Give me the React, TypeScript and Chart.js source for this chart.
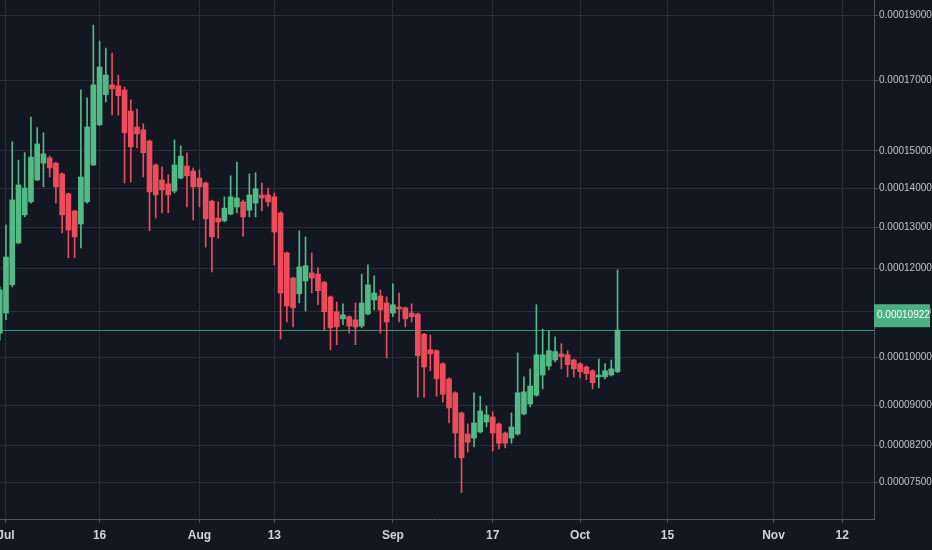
import React, { useEffect, useRef } from 'react';
import Chart from 'chart.js/auto';

// daily candles, prices in satoshi; first candle is Jun 30 (day -1, Jul 1 = day 0)
const FIRST_DAY = -1;

const opens = [
  10520, 10970, 11620, 12620, 13320, 13650, 14220, 14670, 14810, 14670, 14380, 13860, 13420, 13090, 13650, 14620,
  15720, 16580, 16870, 16840, 16720, 16110, 15660, 15580, 15270, 14620, 14220, 14120, 13930, 14270, 14590, 14460,
  14270, 14140, 13670, 13240, 13170, 13340, 13520, 13650, 13440, 13620, 13830, 13830, 13780, 13370, 12380, 11780,
  11410, 11710, 11900, 11870, 11680, 11340, 11000, 10840, 10890, 10820, 10680, 10950, 11270, 11360, 11200,
  10970, 11110, 11090, 10970, 10950, 10500, 10160, 10140, 9860, 9540, 9250, 8840, 8420, 8340, 8460, 8660,
  8760, 8620, 8440, 8340, 8420, 8820, 9020, 9200, 9620, 9810, 9940, 10070, 10050, 9940,
  9860, 9790, 9710, 9580, 9580, 9620, 9690,
];
const highs = [
  11570, 13070, 15250, 14750, 14950, 15940, 15640, 15500, 14860, 14700, 14410, 13880, 13440, 16720, 16490, 18690,
  18190, 17970, 17820, 17160, 16810, 16430, 16170, 15750, 15300, 14650, 14570, 14360, 15300, 15140, 14950, 14540,
  14490, 14170, 13700, 13650, 13780, 14330, 14700, 13700, 14380, 14410, 14140, 14010, 13880, 13400, 12400, 11800,
  12920, 12770, 12380, 12020, 11700, 11360, 11220, 11180, 10910, 11200, 11870, 12090, 11830, 11500, 11340,
  11640, 11430, 11110, 11180, 10970, 10520, 10480, 10160, 9880, 9560, 9270, 8860, 8620, 9250, 9180, 8980,
  8860, 8640, 8460, 8840, 10090, 9580, 9750, 11160, 10610, 10570, 10440, 10290, 10140, 9960,
  9880, 9810, 9730, 9960, 9860, 9940, 11970,
];
const lows = [
  10370, 10820, 11570, 12600, 13270, 13620, 14200, 14040, 14300, 13620, 12870, 12260, 12260, 12500, 13620, 14600,
  15700, 16370, 16000, 16000, 14140, 14170, 15080, 14300, 12920, 13240, 13370, 13370, 13880, 14250, 13520, 13190,
  13520, 12520, 11920, 12740, 13140, 13320, 13370, 12790, 13270, 13270, 13420, 13540, 12090, 10390, 10770, 10660,
  11200, 11020, 11430, 11160, 10590, 10160, 10270, 10710, 10520, 10270, 10640, 10930, 11040, 10520, 9980,
  10890, 10770, 10660, 10770, 9160, 9160, 9710, 9180, 9060, 8640, 7960, 7310, 8070, 8170, 8440, 8560,
  8090, 8130, 8150, 8240, 8400, 8800, 8960, 9180, 9330, 9730, 9900, 9750, 9580, 9580,
  9560, 9520, 9330, 9350, 9540, 9600, 9670,
];
const closes = [
  11500, 12280, 13700, 14090, 14010, 14830, 15190, 14920, 14540, 14040, 13320, 12940, 12770, 14300, 15660, 16870,
  17400, 17160, 16750, 16550, 15500, 15110, 15470, 14950, 13910, 13830, 13960, 13830, 14620, 14860, 14330, 14040,
  14040, 13220, 12770, 13140, 13490, 13780, 13750, 13270, 13830, 13990, 13750, 13650, 12890, 11430, 11130, 11090,
  12040, 12070, 11780, 11480, 11000, 10640, 10660, 10930, 10680, 10660, 11200, 11620, 11430, 11040, 10770,
  11160, 11060, 10840, 10890, 10030, 9790, 10070, 9540, 9220, 8940, 8440, 7960, 8260, 8640, 8880, 8800,
  8440, 8240, 8240, 8560, 9250, 9270, 9390, 10050, 10050, 10140, 10120, 10010, 9840, 9750,
  9690, 9650, 9460, 9620, 9710, 9750, 10590,
];

const dayTicks = [0, 15, 31, 43, 62, 78, 92, 106, 123, 134];
const dayTickLabels = ['Jul', '16', 'Aug', '13', 'Sep', '17', 'Oct', '15', 'Nov', '12'];
const priceTicks = [7500, 8200, 9000, 10000, 11000, 12000, 13000, 14000, 15000, 17000, 19000];
const lastPriceLabel = 10922;

const UP = '#53b987';
const DOWN = '#eb4d5c';
const FONT = "'Liberation Sans', Arial, sans-serif";

// the price axis is log-like with a shift
const SHIFT = 8600;
const toScale = (sat: number) => Math.log((sat + SHIFT) / 1000);
const fmt = (sat: number) => (sat / 1e8).toFixed(8);

const lastPricePlugin = {
  id: 'lastPrice',
  beforeDatasetsDraw(chart: any) {
    const { ctx, chartArea } = chart;
    const y = Math.round(chart.scales.y.getPixelForValue(toScale(closes[closes.length - 1]))) + 0.5;
    ctx.save();
    ctx.strokeStyle = 'rgba(83,185,135,0.75)';
    ctx.lineWidth = 1;
    ctx.beginPath();
    ctx.moveTo(chartArea.left, y);
    ctx.lineTo(chartArea.right, y);
    ctx.stroke();
    ctx.restore();
  },
  afterDraw(chart: any) {
    const { ctx, chartArea } = chart;
    const y = chart.scales.y.getPixelForValue(toScale(lastPriceLabel));
    ctx.save();
    ctx.fillStyle = '#4caf80';
    ctx.fillRect(chartArea.right, y - 11, 56, 23);
    ctx.fillStyle = '#ffffff';
    ctx.font = `10px ${FONT}`;
    ctx.textBaseline = 'middle';
    ctx.textAlign = 'left';
    ctx.fillText(fmt(lastPriceLabel), chartArea.right + 3, y);
    ctx.restore();
  },
};

export default function App() {
  const canvasRef = useRef<HTMLCanvasElement | null>(null);

  useEffect(() => {
    const ctx = canvasRef.current?.getContext('2d');
    if (!ctx) return;

    const colors = opens.map((o, i) => (closes[i] >= o ? UP : DOWN));
    const bodies = opens.map((o, i) => ({ x: FIRST_DAY + i, y: [toScale(o), toScale(closes[i])] }));
    const wicks = lows.map((l, i) => ({ x: FIRST_DAY + i, y: [toScale(l), toScale(highs[i])] }));

    const chart = new Chart(ctx, {
      type: 'bar',
      data: {
        datasets: [
          { data: bodies, backgroundColor: colors, barThickness: 5, minBarLength: 1, grouped: false },
          { data: wicks, backgroundColor: colors, barThickness: 1, grouped: false },
        ],
      },
      options: {
        animation: false,
        responsive: true,
        maintainAspectRatio: false,
        layout: { padding: 0, autoPadding: false },
        plugins: { legend: { display: false }, tooltip: { enabled: false } },
        scales: {
          x: {
            type: 'linear',
            min: -0.96,
            max: 139.1,
            offset: false,
            afterBuildTicks: (s: any) => { s.ticks = dayTicks.map((v) => ({ value: v })); },
            afterFit: (s: any) => { s.height = 31; s.paddingLeft = 0; s.paddingRight = 0; },
            ticks: {
              autoSkip: false,
              maxRotation: 0,
              padding: 5,
              color: '#d1d4dc',
              font: { family: FONT, size: 12, weight: 'bold' },
              callback: (v: any) => dayTickLabels[dayTicks.indexOf(Number(v))] ?? '',
            },
            grid: { offset: false, color: '#2a2e39', tickColor: '#50545f', tickLength: 4 },
            border: { color: '#50545f' },
          },
          y: {
            type: 'linear',
            position: 'right',
            min: toScale(6830),
            max: toScale(19490),
            afterBuildTicks: (s: any) => { s.ticks = priceTicks.map((p) => ({ value: toScale(p) })); },
            afterFit: (s: any) => { s.width = 58; s.paddingTop = 0; s.paddingBottom = 0; },
            ticks: {
              padding: 1,
              color: '#c0c3ca',
              font: { family: FONT, size: 10 },
              callback: (_v: any, i: number) => fmt(priceTicks[i]),
            },
            grid: { color: '#2a2e39', tickColor: '#50545f', tickLength: 4 },
            border: { color: '#50545f' },
          },
        },
      },
      plugins: [lastPricePlugin],
    } as any);

    return () => chart.destroy();
  }, []);

  return (
    <div style={{ position: 'fixed', left: 0, top: 0, width: 932, height: 550, background: '#131722' }}>
      <canvas ref={canvasRef} />
    </div>
  );
}
